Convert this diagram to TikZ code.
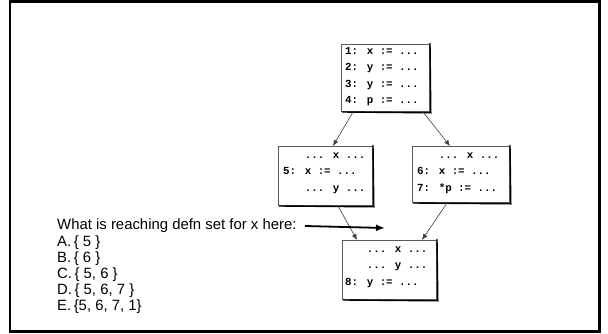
\documentclass[tikz,border=0pt]{standalone}
\usepackage{fontspec}
\setmainfont{Liberation Sans}
\newfontfamily\codefont{Liberation Mono}
\usetikzlibrary{arrows.meta}
\tikzset{
  codebox/.style={draw=black!65, line width=1pt, anchor=north west, inner sep=0pt,
    minimum width=#1},
  codetext/.style={anchor=north west, inner sep=0pt, align=left,
    font=\codefont\bfseries\fontsize{10.8}{16.5}\selectfont},
  flow/.style={draw=black!75, line width=0.6pt, -{Latex[length=6pt,width=5pt]}},
  hint/.style={draw=black, line width=1.8pt, -{Latex[length=9pt,width=7pt]}},
  shade/.style={draw=black, line width=1.4pt},
}
\newcommand{\shd}[1]{\draw[shade] ([xshift=1pt]#1.south west) -- ([xshift=0.8pt,yshift=-0.8pt]#1.south east) -- ([yshift=1pt]#1.north east);}
\begin{document}
\begin{tikzpicture}[x=1pt,y=-1pt]
\useasboundingbox (0,0) rectangle (608,334);
\draw[line width=2.6pt] (9.8,1.3) rectangle (599.7,331.2);

% boxes
\node[codebox=88, minimum height=67] (b1) at (341,44) {};
\node[codebox=94, minimum height=59] (b5) at (278,146) {};
\node[codebox=97, minimum height=56] (b6) at (412,146) {};
\node[codebox=94, minimum height=59] (b8) at (342,240) {};
\shd{b1}\shd{b5}\shd{b6}\shd{b8}

\node[codetext] (t1) at ([xshift=4pt,yshift=-3pt]b1.north west)
  {1: x := ...\\2: y := ...\\3: y := ...\\4: p := ...};
\node[codetext] (t5) at ([xshift=5pt,yshift=-5pt]b5.north west)
  {\phantom{5: }... x ...\\5: x := ...\\\phantom{5: }... y ...};
\node[codetext] (t6) at ([xshift=5pt,yshift=-5pt]b6.north west)
  {\phantom{6: }... x ...\\6: x := ...\\7: *p := ...};
\node[codetext] (t8) at ([xshift=3pt,yshift=-5pt]b8.north west)
  {\phantom{8: }... x ...\\\phantom{8: }... y ...\\8: y := ...};

% edges
\draw[flow] ([xshift=12pt]b1.south west) -- ([xshift=55pt]b5.north west);
\draw[flow] ([xshift=-7pt]b1.south east) -- ([xshift=38pt]b6.north west);
\draw[flow] ([xshift=60pt]b5.south west) -- ([xshift=15pt]b8.north west);
\draw[flow] ([xshift=35pt]b6.south west) -- ([xshift=80pt]b8.north west);

% question
\node[anchor=north west, inner sep=0pt, align=left,
  font=\fontsize{14.9}{16.2}\selectfont] (q) at (57,219)
  {What is reaching defn set for x here:\\A.\,\{ 5 \}\\B.\,\{ 6 \}\\C.\,\{ 5, 6 \}\\D.\,\{ 5, 6, 7 \}\\E.\,\{5, 6, 7, 1\}};
\coordinate (qs) at (305,226);
\draw[hint] (qs) -- ([xshift=43pt,yshift=12pt]b8.north west);
\end{tikzpicture}
\end{document}
